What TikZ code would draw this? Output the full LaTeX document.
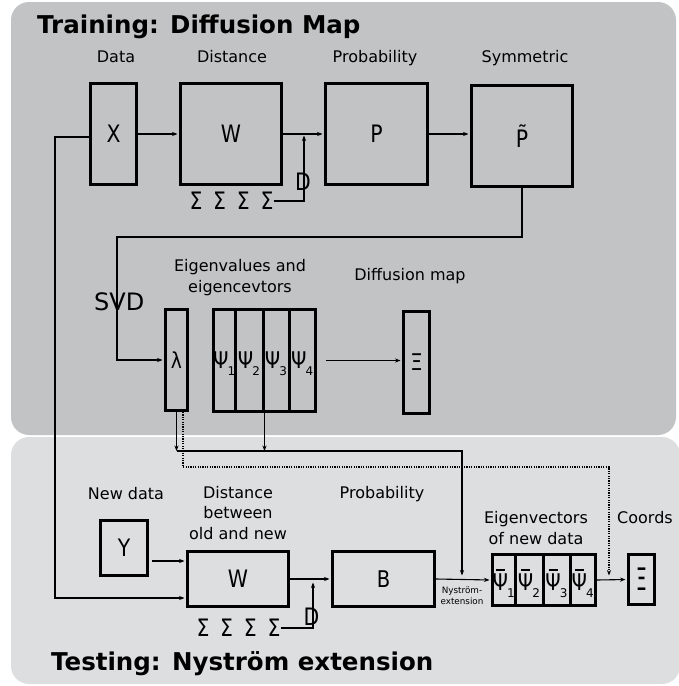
\documentclass[tikz,border=0pt]{standalone}
\usepackage{graphicx}
\usepackage{fontspec}
\setmainfont{DejaVu Sans}
\newfontfamily\narrowfont{DejaVu Sans}[FakeStretch=0.85]
\usetikzlibrary{arrows.meta,calc}

\newcommand\setfs[1]{\fontsize{#1}{#1}\selectfont}
% lowered index that takes no vertical room
\newcommand\idx[1]{\kern-1pt\raisebox{-6.5pt}[0pt][0pt]{\normalfont\setfs{12}#1}}
% short bar above a glyph
\newcommand\ovbar[1]{\setbox0=\hbox{#1}\rlap{\hbox to\wd0{\hss\raisebox{\dimexpr\ht0+3pt\relax}{\rule{9pt}{2pt}}\hss}}\box0}

\definecolor{panelA}{RGB}{194,195,197}
\definecolor{panelB}{RGB}{221,222,224}

\tikzset{
  blk/.style={draw=black, line width=3pt, inner sep=0pt, font=\narrowfont\setfs{24}},
  lbl/.style={inner sep=0pt, anchor=base, font=\setfs{16}},
  lbl2/.style={inner sep=0pt, anchor=base, align=center, font=\fontsize{16}{20.5}\selectfont},
  ttl/.style={inner sep=0pt, anchor=base west, font=\bfseries\setfs{24.5}},
  sym/.style={inner sep=0pt, font=\narrowfont\setfs{24}},
  arr/.style={-{Stealth[length=5.5pt,width=4.2pt]}, line width=1.1pt, shorten >=1.5pt},
  dotarr/.style={arr, dash pattern=on 1.1pt off 1.3pt},
}

\begin{document}
\begin{tikzpicture}[x=1pt,y=-1pt]
\useasboundingbox (0,0) rectangle (678,686);

% panels
\fill[panelA, rounded corners=18pt] (11,2) rectangle (676,435);
\fill[panelB, rounded corners=18pt] (11,437) rectangle (680,684);

% titles
\node[ttl] (ttrain) at (37,33) {Training: Diffusion Map};
\node[ttl] (ttest) at (51,670) {Testing: Nyström extension};

% ---------- training ----------
\node[lbl] (ldata) at (116,62) {Data};
\node[lbl] (ldist) at (232,62) {Distance};
\node[lbl] (lprob) at (375,62) {Probability};
\node[lbl] (lsym)  at (525,62) {Symmetric};

\node[blk, minimum width=46pt,  minimum height=101pt] (X)  at (113.5,134) {X};
\node[blk, minimum width=101pt, minimum height=101pt] (W)  at (231,134)   {W};
\node[blk, minimum width=102pt, minimum height=101pt] (P)  at (376.5,134) {P};
\node[blk, minimum width=101pt, minimum height=101pt] (Pt) at (522,136)   {P̃};

\draw[arr] (X) -- (W);
\draw[arr] (W) -- (P);
\draw[arr] (P.east) -- (P.east -| Pt.west);

\node[sym] (sig1) at (231.5,201) {Σ\hspace{10.8pt}Σ\hspace{10.8pt}Σ\hspace{10.8pt}Σ};
\node[sym] (d1) at (303,182) {D};
\coordinate (j1) at (304,134);
\draw[arr] (sig1.east) -| (j1);

\node[inner sep=0pt, anchor=base west, font=\setfs{24}] (svd) at (94,310) {SVD};
\node[lbl2] (leig) at (240,292) {Eigenvalues and\\eigencevtors};
\node[lbl] (ldmap) at (410,280) {Diffusion map};

\node[blk, minimum width=22pt, minimum height=101pt, font=\narrowfont\setfs{22}] (lam) at (176.5,360) {λ};
\begin{scope}[every node/.append style={blk, minimum height=102pt, font=\narrowfont\setfs{23}}]
  \node[minimum width=21.5pt] (c1) at (224.25,360.5) {Ψ\idx{1}};
  \node[minimum width=28pt]   (c2) at (249,360.5)    {Ψ\idx{2}};
  \node[minimum width=26pt]   (c3) at (276,360.5)    {Ψ\idx{3}};
  \node[minimum width=26.5pt] (c4) at (302.25,360.5) {Ψ\idx{4}};
\end{scope}
\node[blk, minimum width=26pt, minimum height=102pt, font=\narrowfont\setfs{23}] (xi1) at (416.5,362.5) {Ξ};

\coordinate (svdturn) at (117,237);
\draw[arr] (Pt.south) |- (svdturn) |- (lam.west);
\draw[arr] ($(c4.east)+(9,0)$) -- (xi1.west |- c4.east);

% ---------- testing ----------
\node[lbl] (lnew) at (126,499) {New data};
\node[lbl2] (ldist2) at (238,539) {Distance\\between\\old and new};
\node[lbl] (lprob2) at (382,498) {Probability};
\node[lbl2] (leig2) at (536,544) {Eigenvectors\\of new data};
\node[lbl] (lcoord) at (645,523) {Coords};

\node[blk, minimum width=47pt,  minimum height=55pt] (Y)  at (124,548)   {Y};
\node[blk, minimum width=101pt, minimum height=55pt] (W2) at (238,579)   {W};
\node[blk, minimum width=102pt, minimum height=55pt, font=\narrowfont\setfs{23}] (B) at (383.5,579) {B};

\begin{scope}[every node/.append style={blk, minimum height=51pt, font=\narrowfont\setfs{23}}]
  \node[minimum width=22.5pt] (b1) at (503.75,580) {\ovbar{Ψ}\idx{1}};
  \node[minimum width=28pt]   (b2) at (529,580)    {\ovbar{Ψ}\idx{2}};
  \node[minimum width=27pt]   (b3) at (556.5,580)  {\ovbar{Ψ}\idx{3}};
  \node[minimum width=25.5pt] (b4) at (582.75,580) {\ovbar{Ψ}\idx{4}};
\end{scope}
\node[blk, minimum width=26pt, minimum height=50pt] (xi2) at (641.5,579.5) {\scalebox{0.55}[1]{\normalfont\setfs{31}Ξ}};

\coordinate (xturn) at (55,598);
\draw[arr] ($(X.west)+(0,3)$) -| (xturn) |- ($(W2.west)+(0,19)$);
\draw[arr] ($(Y.east)+(3,13)$) -- ($(W2.west)+(0,-18)$);
\draw[arr] (W2) -- (B);

\node[sym] (sig2) at (238.5,628) {Σ\hspace{10.8pt}Σ\hspace{10.8pt}Σ\hspace{10.8pt}Σ};
\node[sym] (d2) at (311.5,616.5) {D};
\coordinate (j2) at (313,579);
\draw[arr, shorten >=3.5pt] (sig2.east) -| (j2);

\draw[arr] (B.east) -- (b1.west);
\node[inner sep=0pt, align=center, font=\fontsize{8.8}{11}\selectfont] (nyl) at (462,596) {Nyström-\\extension};
\draw[arr] (b4.east) -- (xi2.west);

% eigen-data handed over to the extension
\coordinate (hub) at (176.5,451);
\coordinate (nysT) at (462,579);
\draw[arr, shorten >=0pt] (lam.south) -- (hub);
\draw[arr, shorten >=0pt] (c2.south east) -- (c2.south east |- hub);
\draw[arr, shorten >=3.5pt] (hub) -| (nysT);

\coordinate (dotturn) at (609,467);
\coordinate (dotT) at (609,579);
\draw[dotarr, shorten >=3.5pt] ($(lam.south)+(6.5,0)$) |- (dotturn) -- (dotT);
\end{tikzpicture}
\end{document}
